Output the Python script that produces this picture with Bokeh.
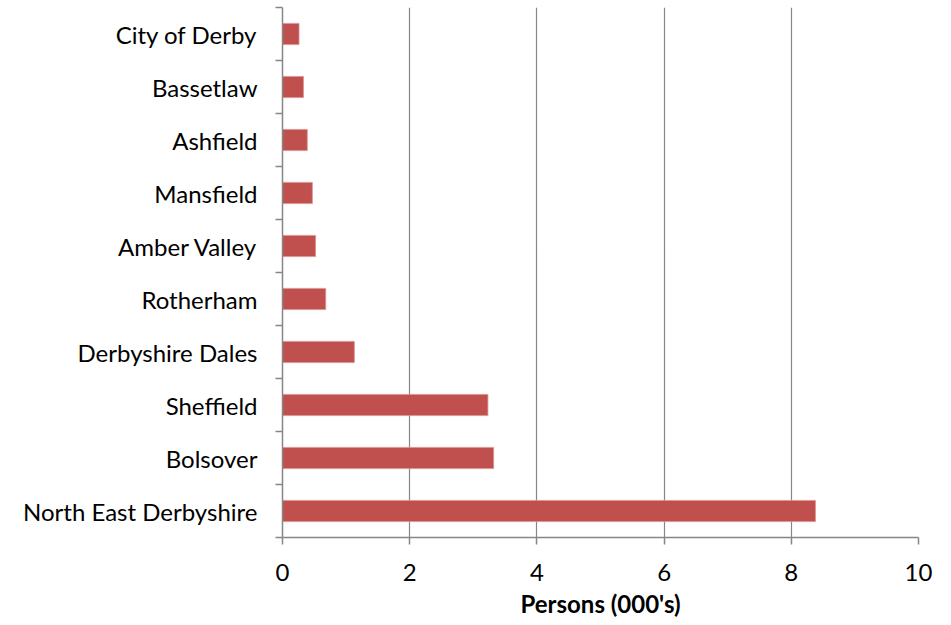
from bokeh.plotting import figure
from bokeh.models import FixedTicker, Range1d
from bokeh.embed import file_html
from bokeh.resources import INLINE

categories = ["North East Derbyshire", "Bolsover", "Sheffield", "Derbyshire Dales",
              "Rotherham", "Amber Valley", "Mansfield", "Ashfield", "Bassetlaw", "City of Derby"]
persons = [8.38, 3.32, 3.23, 1.13, 0.68, 0.52, 0.47, 0.39, 0.33, 0.26]
x_ticks = [0, 2, 4, 6, 8, 10]

FONT = "Lato"
GRAY = "#868686"

positions = [i + 1 for i in range(len(categories))]

p = figure(frame_width=636, frame_height=530, output_backend="svg", toolbar_location=None,
           x_range=Range1d(0, 10), y_range=Range1d(0.5, len(categories) + 0.5),
           min_border_left=282, min_border_right=17, min_border_top=7, min_border_bottom=72)
p.outline_line_color = None
p.background_fill_color = "white"

p.hbar(y=positions, right=persons, left=0, height=0.4, fill_color="#C0504D",
       line_color="#D99694", line_width=0.8)

# x axis
p.xaxis.ticker = FixedTicker(ticks=x_ticks)
p.xaxis.axis_line_color = GRAY
p.xaxis.axis_line_width = 1.5
p.xaxis.major_tick_line_color = GRAY
p.xaxis.major_tick_line_width = 1.5
p.xaxis.major_tick_out = 7
p.xaxis.major_tick_in = 0
p.xaxis.minor_tick_line_color = None
p.xaxis.major_label_text_font = FONT
p.xaxis.major_label_text_font_size = "24px"
p.xaxis.major_label_text_color = "black"
p.xaxis.major_label_standoff = 19
p.xaxis.axis_label = "Persons (000's)"
p.xaxis.axis_label_text_font = FONT
p.xaxis.axis_label_text_font_size = "24px"
p.xaxis.axis_label_text_font_style = "bold"
p.xaxis.axis_label_text_color = "black"
p.xaxis.axis_label_standoff = 5

# y axis
p.yaxis.ticker = FixedTicker(ticks=positions,
                             minor_ticks=[i + 0.5 for i in range(len(categories) + 1)])
p.yaxis.major_label_overrides = {pos: name for pos, name in zip(positions, categories)}
p.yaxis.axis_line_color = GRAY
p.yaxis.axis_line_width = 1.5
p.yaxis.major_tick_line_color = None
p.yaxis.major_tick_out = 0
p.yaxis.major_tick_in = 0
p.yaxis.minor_tick_line_color = GRAY
p.yaxis.minor_tick_line_width = 1.5
p.yaxis.minor_tick_out = 7
p.yaxis.minor_tick_in = 0
p.yaxis.major_label_text_font = FONT
p.yaxis.major_label_text_font_size = "24px"
p.yaxis.major_label_text_color = "black"
p.yaxis.major_label_standoff = 18

# grid
p.ygrid.grid_line_color = None
p.xgrid.ticker = FixedTicker(ticks=x_ticks)
p.xgrid.grid_line_color = GRAY
p.xgrid.grid_line_width = 1.2

open("out.html", "w").write(file_html(p, INLINE))
